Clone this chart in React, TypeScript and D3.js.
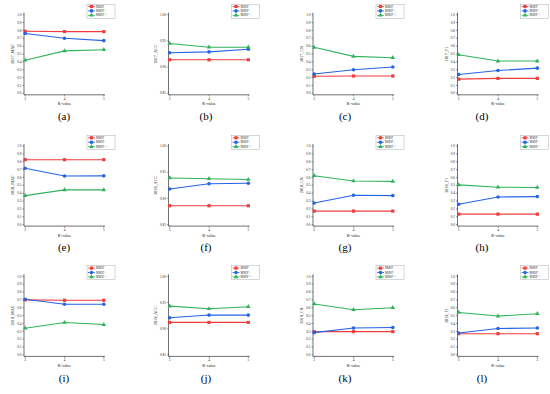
import * as d3 from 'd3'

const kValues = [3, 4, 5]
const seriesNames = ['MSDF', 'MSDF+', 'MSDF++']
const seriesColors = ['#f03c3c', '#2563e8', '#2fb35a']
const years = ['2017', '2018', '2019']
const metrics = ['MAE', 'ACC', 'CR', 'F1']
const panelLetters = ['a', 'b', 'c', 'd', 'e', 'f', 'g', 'h', 'i', 'j', 'k', 'l']

const unitTicks = [0, 0.1, 0.2, 0.3, 0.4, 0.5, 0.6, 0.7, 0.8, 0.9, 1.0]
const accTicks = [0.85, 0.9, 0.95, 1.0]

// each panel: [MSDF, MSDF+, MSDF++] values at K = 3, 4, 5
const mae2017 = [[0.79, 0.785, 0.785], [0.76, 0.70, 0.67], [0.42, 0.54, 0.555]]
const acc2017 = [[0.914, 0.914, 0.914], [0.9275, 0.929, 0.934], [0.945, 0.938, 0.938]]
const cr2017 = [[0.216, 0.22, 0.22], [0.245, 0.30, 0.335], [0.585, 0.47, 0.453]]
const f12017 = [[0.18, 0.19, 0.19], [0.24, 0.29, 0.32], [0.49, 0.41, 0.41]]
const mae2018 = [[0.826, 0.826, 0.826], [0.717, 0.618, 0.62], [0.369, 0.442, 0.442]]
const acc2018 = [[0.886, 0.886, 0.886], [0.918, 0.928, 0.929], [0.939, 0.9375, 0.936]]
const cr2018 = [[0.172, 0.172, 0.172], [0.275, 0.373, 0.369], [0.622, 0.554, 0.55]]
const f12018 = [[0.133, 0.133, 0.133], [0.258, 0.352, 0.356], [0.506, 0.476, 0.472]]
const mae2019 = [[0.70, 0.695, 0.695], [0.708, 0.644, 0.644], [0.339, 0.412, 0.386]]
const acc2019 = [[0.912, 0.912, 0.912], [0.921, 0.926, 0.926], [0.943, 0.938, 0.942]]
const cr2019 = [[0.296, 0.296, 0.296], [0.283, 0.343, 0.348], [0.648, 0.575, 0.60]]
const f12019 = [[0.27, 0.27, 0.27], [0.279, 0.335, 0.343], [0.54, 0.494, 0.524]]

const panelData = [
  mae2017, acc2017, cr2017, f12017,
  mae2018, acc2018, cr2018, f12018,
  mae2019, acc2019, cr2019, f12019,
]

const W = 550
const H = 394
const colLeft = [24, 168.5, 313, 457.5]
const rowTop = [14.7, 146, 276.3]
const labelX = [64, 206, 345, 482]
const pw = 81
const ph = 78.6
const font = 'Liberation Serif, Times New Roman, serif'
const axisColor = '#333'

function Marker({ kind, x, y, color }: { kind: number; x: number; y: number; color: string }) {
  if (kind === 0) return <rect x={x - 1.6} y={y - 1.6} width={3.2} height={3.2} fill={color} />
  if (kind === 1) return <circle cx={x} cy={y} r={1.8} fill={color} />
  const tri = d3.symbol().type(d3.symbolTriangle).size(9)()
  return <path d={tri as string} transform={`translate(${x},${y})`} fill={color} />
}

function Panel({ idx }: { idx: number }) {
  const row = Math.floor(idx / 4)
  const col = idx % 4
  const isAcc = col === 1
  const data = panelData[idx]
  const x = d3.scaleLinear().domain([2.97, 5.03]).range([0, pw])
  const y = d3.scaleLinear().domain(isAcc ? [0.85, 1.0] : [0, 1]).range([ph, 0])
  const ticks = isAcc ? accTicks : unitTicks
  const fmt = isAcc ? d3.format('.2f') : d3.format('.1f')
  const line = d3.line<number>().x((_, i) => x(kValues[i])).y((d) => y(d))
  const baseY = ph + 1.5
  return (
    <g transform={`translate(${colLeft[col]},${rowTop[row]})`}>
      {/* axes */}
      <line x1={0} x2={0} y1={-2} y2={baseY} stroke={axisColor} strokeWidth={0.7} />
      <line x1={0} x2={pw} y1={baseY} y2={baseY} stroke={axisColor} strokeWidth={0.7} />
      {ticks.map((t) => (
        <g key={t}>
          <line x1={-1.5} x2={0} y1={y(t)} y2={y(t)} stroke={axisColor} strokeWidth={0.5} />
          <text x={-2.5} y={y(t)} dy="0.35em" textAnchor="end" fontSize={3.4} fontFamily={font} fill="#222">
            {fmt(t)}
          </text>
        </g>
      ))}
      {kValues.map((k) => (
        <g key={k}>
          <line x1={x(k)} x2={x(k)} y1={baseY} y2={baseY + 1.5} stroke={axisColor} strokeWidth={0.5} />
          <text x={x(k)} y={baseY + 5} textAnchor="middle" fontSize={3.4} fontFamily={font} fill="#222">
            {k}
          </text>
        </g>
      ))}
      <text x={pw / 2} y={baseY + 10.5} textAnchor="middle" fontSize={4.2} fontFamily={font} fill="#222">
        K-value
      </text>
      <text
        transform={`translate(${isAcc ? -12 : -10},${ph / 2}) rotate(-90)`}
        textAnchor="middle"
        fontSize={4.2}
        fontFamily={font}
        fill="#222"
      >
        {`${years[row]}_${metrics[col]}`}
      </text>
      {/* series */}
      {data.map((vals, si) => (
        <g key={si}>
          <path d={line(vals) as string} fill="none" stroke={seriesColors[si]} strokeWidth={1.1} />
          {vals.map((v, i) => (
            <Marker key={i} kind={si} x={x(kValues[i])} y={y(v)} color={seriesColors[si]} />
          ))}
        </g>
      ))}
      {/* legend */}
      <g transform={`translate(${pw - 18},${-10.5})`}>
        <rect x={0} y={0} width={28} height={14} fill="#fff" stroke="#999" strokeWidth={0.4} />
        {seriesNames.map((n, si) => (
          <g key={n} transform={`translate(0,${2.3 + si * 4.4})`}>
            <line x1={1} x2={8} y1={0} y2={0} stroke={seriesColors[si]} strokeWidth={0.8} />
            <Marker kind={si} x={4.5} y={0} color={seriesColors[si]} />
            <text x={9} y={0} dy="0.35em" fontSize={3} fontFamily={font} fill="#222">
              {n}
            </text>
          </g>
        ))}
      </g>
      <text
        x={labelX[col] - colLeft[col]}
        y={101.5}
        dy="0.35em"
        textAnchor="middle"
        fontSize={11}
        fontFamily={font}
        fill="#000"
      >
        {`(${panelLetters[idx]})`}
      </text>
    </g>
  )
}

export default function App() {
  return (
    <svg
      width={W}
      height={H}
      style={{ position: 'absolute', left: 0, top: 0, background: '#fff' }}
    >
      <rect width={W} height={H} fill="#fff" />
      {panelData.map((_, i) => (
        <Panel key={i} idx={i} />
      ))}
    </svg>
  )
}
